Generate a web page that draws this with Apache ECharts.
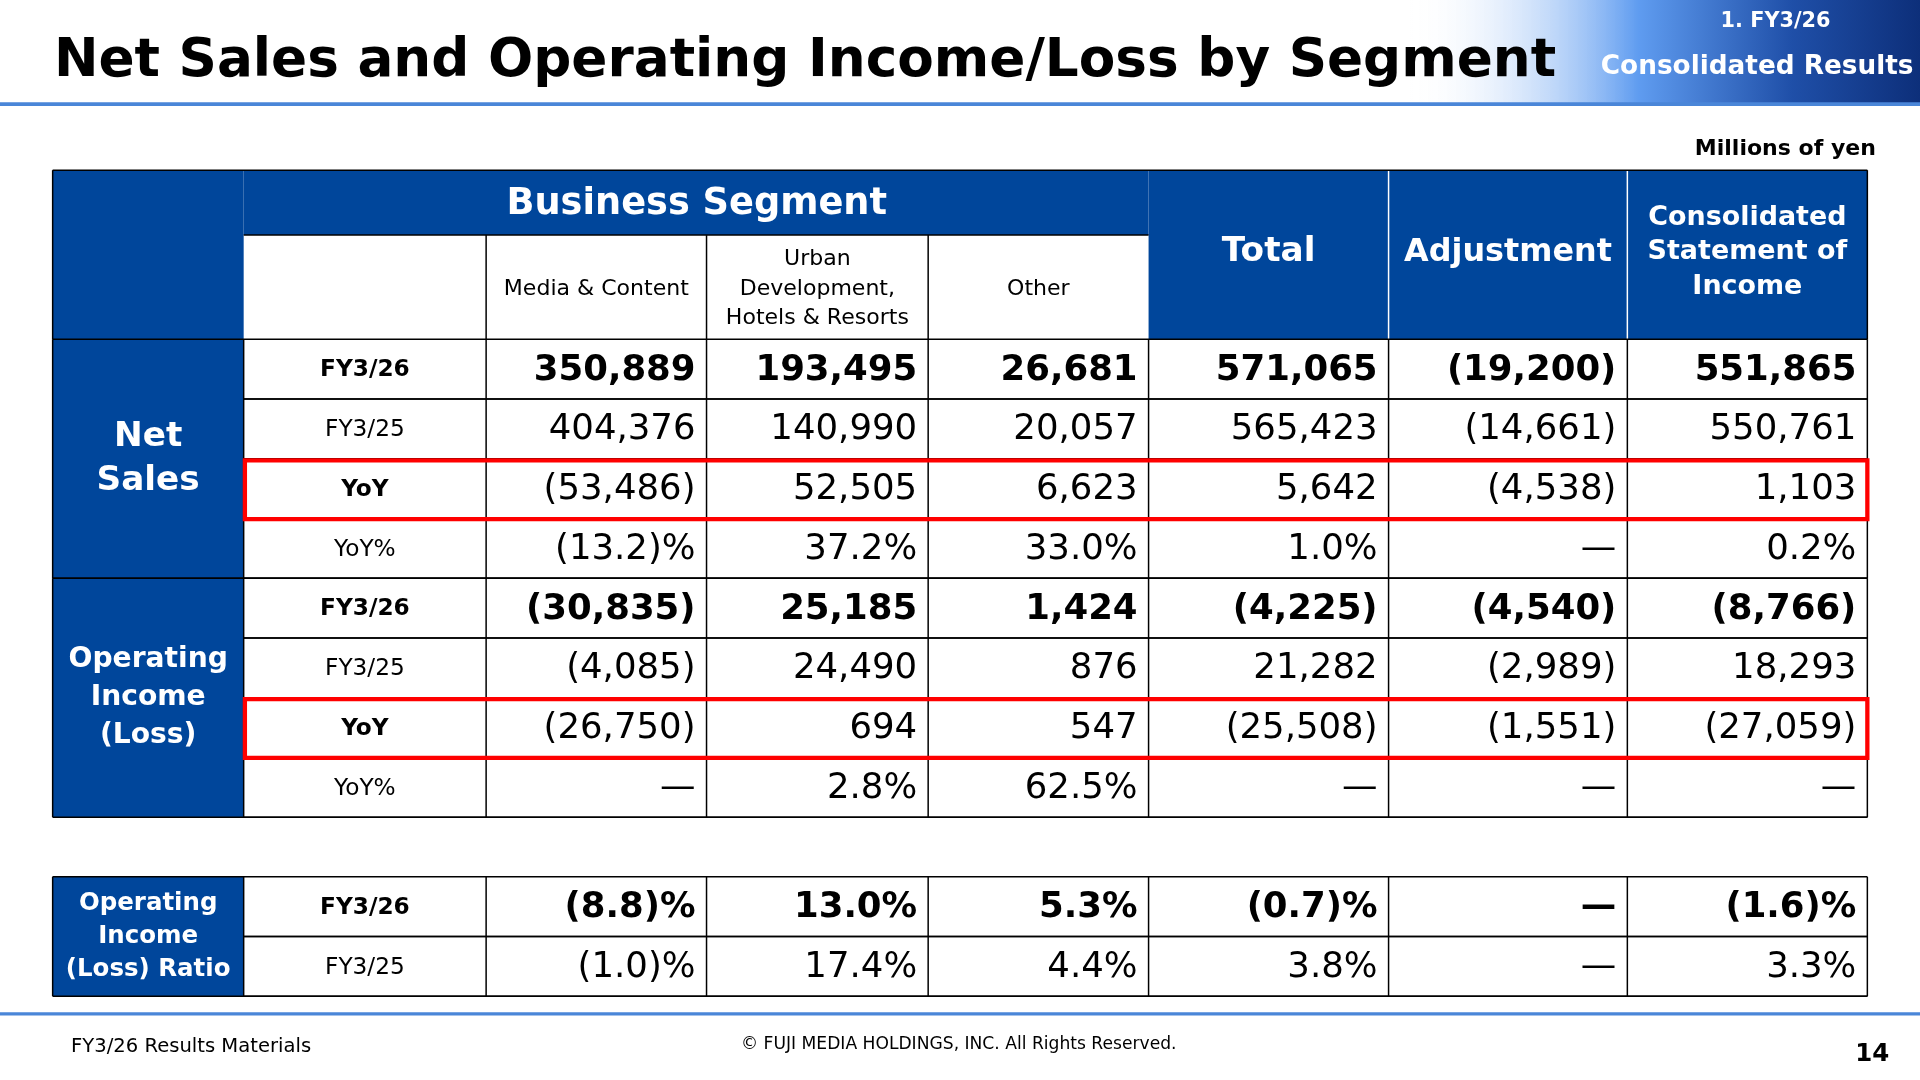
<!DOCTYPE html>
<html>
<head>
<meta charset="utf-8">
<script src="https://cdn.jsdelivr.net/npm/echarts@6/dist/echarts.min.js"></script>
<style>html,body{margin:0;padding:0;background:#fff}#main{width:1920px;height:1080px}</style>
</head>
<body>
<div id="main"></div>
<script>
// table values (millions of yen)
var columns = ['Media & Content', 'Urban\nDevelopment,\nHotels & Resorts', 'Other', 'Total', 'Adjustment', 'Consolidated\nStatement of\nIncome'];
var rowLabels = ['FY3/26', 'FY3/25', 'YoY', 'YoY%'];
var netSales = [
    ['350,889', '193,495', '26,681', '571,065', '(19,200)', '551,865'],
    ['404,376', '140,990', '20,057', '565,423', '(14,661)', '550,761'],
    ['(53,486)', '52,505', '6,623', '5,642', '(4,538)', '1,103'],
    ['(13.2)%', '37.2%', '33.0%', '1.0%', '—', '0.2%']
];
var opIncome = [
    ['(30,835)', '25,185', '1,424', '(4,225)', '(4,540)', '(8,766)'],
    ['(4,085)', '24,490', '876', '21,282', '(2,989)', '18,293'],
    ['(26,750)', '694', '547', '(25,508)', '(1,551)', '(27,059)'],
    ['—', '2.8%', '62.5%', '—', '—', '—']
];
var ratioLabels = ['FY3/26', 'FY3/25'];
var opRatio = [
    ['(8.8)%', '13.0%', '5.3%', '(0.7)%', '—', '(1.6)%'],
    ['(1.0)%', '17.4%', '4.4%', '3.8%', '—', '3.3%']
];

var s = 1920 / 1568;
function S(v) { return v * s; }
var NAVY = '#00469b';
var FONT = 'DejaVu Sans';
var colX = [43, 199, 397, 577, 758, 938, 1134, 1329, 1525];
var els = [];

function rect(x, y, w, h, fill, stroke, lw) {
    els.push({type: 'rect', shape: {x: S(x), y: S(y), width: S(w), height: S(h)},
        style: {fill: fill || 'none', stroke: stroke || null, lineWidth: lw || 0}});
}
function line(x1, y1, x2, y2, c, lw) {
    els.push({type: 'line', shape: {x1: S(x1), y1: S(y1), x2: S(x2), y2: S(y2)},
        style: {stroke: c, lineWidth: lw}});
}
function text(t, x, y, size, opt) {
    opt = opt || {};
    els.push({type: 'text', x: S(x), y: S(y), z: 10,
        style: {text: t, fill: opt.color || '#000', font: (opt.bold ? 'bold ' : '') + S(size) + 'px "' + FONT + '"',
            align: opt.align || 'left', verticalAlign: 'middle', lineHeight: S(opt.lh || size * 1.2)}});
}

// header
els.push({type: 'rect', shape: {x: S(1150), y: 0, width: S(418), height: S(85)},
    style: {fill: new echarts.graphic.LinearGradient(0, 0, 1, 0, [
        {offset: 0, color: 'rgba(255,255,255,0)'}, {offset: 0.45, color: '#5f9cf0'},
        {offset: 0.75, color: '#1f4fa8'}, {offset: 1, color: '#0d2f7a'}])}});
line(0, 85, 1568, 85, '#4a86d8', S(3));
text('Net Sales and Operating Income/Loss by Segment', 44, 51, 43.5, {bold: true});
text('1. FY3/26', 1450, 18, 17, {bold: true, color: '#fff', align: 'center'});
text('Consolidated Results', 1435, 55, 21.5, {bold: true, color: '#fff', align: 'center'});
text('Millions of yen', 1532, 122, 18, {bold: true, align: 'right'});

// main table header
rect(43, 139, 156, 138, NAVY);
rect(199, 139, 739, 53, NAVY);
rect(938, 139, 587, 138, NAVY);
text('Business Segment', 569, 167, 30, {bold: true, color: '#fff', align: 'center'});
for (var c = 0; c < 6; c++) {
    var cx = (colX[c + 2] + colX[c + 3]) / 2;
    if (c < 3) text(columns[c], cx, 236, 18, {align: 'center', lh: 24});
    else text(columns[c], cx, 206, c === 5 ? 22 : (c === 4 ? 26 : 28), {bold: true, color: '#fff', align: 'center', lh: 28});
}
line(199, 192, 938, 192, '#000', 1.5);
for (var c2 = 2; c2 <= 4; c2++) line(colX[c2], 192, colX[c2], 277, '#000', 1.5);
line(1134, 139, 1134, 277, '#fff', 1.5);
line(1329, 139, 1329, 277, '#fff', 1.5);

function block(top, labels, data, sideLabel, sideSize, sideLh) {
    var rh = 48.8, n = data.length;
    rect(43, top, 156, rh * n, NAVY);
    text(sideLabel, 121, top + rh * n / 2, sideSize, {bold: true, color: '#fff', align: 'center', lh: sideLh});
    for (var r = 0; r < n; r++) {
        var y = top + rh * r, cy = y + rh / 2 + 1;
        var bold = labels[r] === 'FY3/26' || labels[r] === 'YoY';
        text(labels[r], 298, cy, 19, {bold: bold, align: 'center'});
        for (var c = 0; c < 6; c++) {
            text(data[r][c], colX[c + 3] - 9, cy, 29, {bold: labels[r] === 'FY3/26', align: 'right'});
        }
        line(199, y + rh, 1525, y + rh, '#000', 1.5);
        if (r > 0) line(199, y, 1525, y, '#000', 1.5);
    }
    for (var k = 1; k < colX.length; k++) line(colX[k], top, colX[k], top + rh * n, '#000', 1.5);
    line(43, top, 1525, top, '#000', 1.5);
    line(43, top + rh * n, 1525, top + rh * n, '#000', 1.5);
    line(43, top, 43, top + rh * n, '#000', 1.5);
}
block(277, rowLabels, netSales, 'Net\nSales', 28, 36);
block(472.2, rowLabels, opIncome, 'Operating\nIncome\n(Loss)', 23, 31);
line(43, 139, 1525, 139, '#000', 1.5);
line(43, 139, 43, 277, '#000', 1.5);
line(1525, 139, 1525, 277, '#000', 1.5);

// red highlight boxes on YoY rows
rect(200, 376, 1325, 48, null, '#ff0000', S(3.5));
rect(200, 571, 1325, 48, null, '#ff0000', S(3.5));

block(716, ratioLabels, opRatio, 'Operating\nIncome\n(Loss) Ratio', 20, 27);

// footer
line(0, 828, 1568, 828, '#4a86d8', S(2.5));
text('FY3/26 Results Materials', 58, 855, 16);
text('© FUJI MEDIA HOLDINGS, INC. All Rights Reserved.', 783, 853, 14, {align: 'center'});
text('14', 1543, 861, 20, {bold: true, align: 'right'});

var myChart = echarts.init(document.getElementById('main'));
myChart.setOption({animation: false, graphic: {elements: els}});
</script>
</body>
</html>
